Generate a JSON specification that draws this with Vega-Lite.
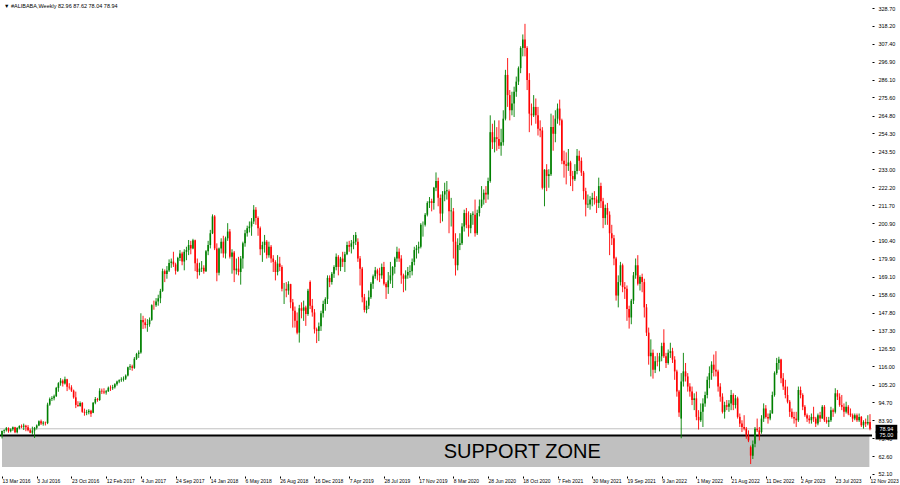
{
"$schema": "https://vega.github.io/schema/vega-lite/v6.json",
"width": 872, "height": 476,
"autosize": {"type": "none"},
"padding": {"left": 0, "top": 0, "right": 28, "bottom": 9},
"background": "#ffffff",
"config": {"view": {"stroke": null}, "font": "Liberation Sans", "axis": {"labelOverlap": false, "labelBound": false, "labelFlush": false}},
"datasets": {
"candles": [
{"d":"2016-03-13","o":74.8,"h":77.9,"l":73.2,"c":77.6},
{"d":"2016-03-20","o":77.6,"h":78.6,"l":76.2,"c":78.1},
{"d":"2016-03-27","o":78.1,"h":80.0,"l":77.3,"c":79.3},
{"d":"2016-04-03","o":79.3,"h":79.8,"l":76.6,"c":77.5},
{"d":"2016-04-10","o":77.5,"h":79.2,"l":76.8,"c":78.6},
{"d":"2016-04-17","o":78.6,"h":80.3,"l":77.7,"c":79.8},
{"d":"2016-04-24","o":79.8,"h":80.1,"l":76.3,"c":76.9},
{"d":"2016-05-01","o":76.9,"h":79.9,"l":76.2,"c":79.4},
{"d":"2016-05-08","o":79.4,"h":81.0,"l":78.6,"c":80.6},
{"d":"2016-05-15","o":80.6,"h":81.5,"l":79.3,"c":80.2},
{"d":"2016-05-22","o":80.2,"h":82.0,"l":78.2,"c":80.8},
{"d":"2016-05-29","o":80.8,"h":81.3,"l":77.5,"c":79.9},
{"d":"2016-06-05","o":79.9,"h":81.1,"l":77.4,"c":78.1},
{"d":"2016-06-12","o":78.1,"h":79.0,"l":76.3,"c":76.6},
{"d":"2016-06-19","o":76.6,"h":80.2,"l":75.4,"c":77.9},
{"d":"2016-06-26","o":77.9,"h":80.0,"l":73.5,"c":79.5},
{"d":"2016-07-03","o":79.5,"h":81.5,"l":78.5,"c":80.9},
{"d":"2016-07-10","o":80.9,"h":83.9,"l":80.5,"c":83.4},
{"d":"2016-07-17","o":83.4,"h":84.4,"l":81.2,"c":82.0},
{"d":"2016-07-24","o":82.0,"h":83.5,"l":80.8,"c":82.6},
{"d":"2016-07-31","o":82.6,"h":83.2,"l":80.9,"c":82.3},
{"d":"2016-08-07","o":82.3,"h":94.4,"l":81.7,"c":93.3},
{"d":"2016-08-14","o":93.3,"h":97.5,"l":92.6,"c":96.6},
{"d":"2016-08-21","o":96.6,"h":98.3,"l":95.4,"c":97.0},
{"d":"2016-08-28","o":97.0,"h":99.2,"l":95.8,"c":98.3},
{"d":"2016-09-04","o":98.3,"h":103.8,"l":97.8,"c":103.2},
{"d":"2016-09-11","o":103.2,"h":106.6,"l":100.9,"c":106.0},
{"d":"2016-09-18","o":106.0,"h":109.0,"l":104.5,"c":107.5},
{"d":"2016-09-25","o":107.5,"h":108.3,"l":104.0,"c":105.8},
{"d":"2016-10-02","o":105.8,"h":109.9,"l":105.2,"c":108.4},
{"d":"2016-10-09","o":108.4,"h":108.6,"l":101.3,"c":103.9},
{"d":"2016-10-16","o":103.9,"h":106.0,"l":102.2,"c":103.5},
{"d":"2016-10-23","o":103.5,"h":104.8,"l":100.8,"c":101.6},
{"d":"2016-10-30","o":101.6,"h":102.2,"l":96.8,"c":97.6},
{"d":"2016-11-06","o":97.6,"h":101.0,"l":91.2,"c":93.1},
{"d":"2016-11-13","o":93.1,"h":95.3,"l":91.9,"c":92.5},
{"d":"2016-11-20","o":92.5,"h":95.2,"l":92.0,"c":94.3},
{"d":"2016-11-27","o":94.3,"h":94.8,"l":88.4,"c":89.0},
{"d":"2016-12-04","o":89.0,"h":90.9,"l":86.7,"c":88.5},
{"d":"2016-12-11","o":88.5,"h":90.2,"l":87.0,"c":88.8},
{"d":"2016-12-18","o":88.8,"h":90.6,"l":87.5,"c":89.7},
{"d":"2016-12-25","o":89.7,"h":90.2,"l":86.0,"c":87.8},
{"d":"2017-01-01","o":88.5,"h":94.8,"l":88.2,"c":94.4},
{"d":"2017-01-08","o":94.4,"h":97.8,"l":93.5,"c":96.6},
{"d":"2017-01-15","o":96.6,"h":97.3,"l":95.0,"c":96.0},
{"d":"2017-01-22","o":96.0,"h":103.0,"l":95.5,"c":101.5},
{"d":"2017-01-29","o":101.5,"h":102.8,"l":99.6,"c":101.0},
{"d":"2017-02-05","o":101.0,"h":103.0,"l":99.5,"c":100.5},
{"d":"2017-02-12","o":100.5,"h":102.0,"l":99.2,"c":101.2},
{"d":"2017-02-19","o":101.2,"h":104.0,"l":100.8,"c":103.3},
{"d":"2017-02-26","o":103.3,"h":104.7,"l":101.4,"c":103.0},
{"d":"2017-03-05","o":103.0,"h":105.0,"l":102.0,"c":103.6},
{"d":"2017-03-12","o":103.6,"h":106.0,"l":102.8,"c":105.4},
{"d":"2017-03-19","o":105.4,"h":107.5,"l":104.5,"c":107.0},
{"d":"2017-03-26","o":107.0,"h":108.3,"l":106.0,"c":107.8},
{"d":"2017-04-02","o":107.8,"h":109.5,"l":106.8,"c":108.2},
{"d":"2017-04-09","o":108.2,"h":110.0,"l":107.0,"c":108.7},
{"d":"2017-04-16","o":108.7,"h":111.2,"l":107.9,"c":110.5},
{"d":"2017-04-23","o":110.5,"h":115.8,"l":110.0,"c":115.5},
{"d":"2017-04-30","o":115.5,"h":117.3,"l":113.8,"c":116.0},
{"d":"2017-05-07","o":116.0,"h":117.0,"l":113.4,"c":115.1},
{"d":"2017-05-14","o":115.1,"h":121.5,"l":114.5,"c":120.5},
{"d":"2017-05-21","o":120.5,"h":124.0,"l":119.8,"c":123.3},
{"d":"2017-05-28","o":123.3,"h":125.5,"l":121.0,"c":124.2},
{"d":"2017-06-04","o":124.2,"h":147.5,"l":123.5,"c":143.5},
{"d":"2017-06-11","o":143.5,"h":146.0,"l":138.2,"c":142.1},
{"d":"2017-06-18","o":142.1,"h":144.5,"l":138.5,"c":140.5},
{"d":"2017-06-25","o":140.5,"h":144.0,"l":136.5,"c":141.0},
{"d":"2017-07-02","o":141.0,"h":145.0,"l":139.5,"c":143.6},
{"d":"2017-07-09","o":143.6,"h":152.8,"l":143.0,"c":152.3},
{"d":"2017-07-16","o":152.3,"h":155.0,"l":149.6,"c":152.2},
{"d":"2017-07-23","o":152.2,"h":156.5,"l":151.3,"c":154.5},
{"d":"2017-07-30","o":154.5,"h":158.5,"l":152.0,"c":156.4},
{"d":"2017-08-06","o":156.4,"h":162.0,"l":153.5,"c":160.8},
{"d":"2017-08-13","o":160.8,"h":174.0,"l":160.2,"c":172.5},
{"d":"2017-08-20","o":172.5,"h":173.5,"l":166.0,"c":170.8},
{"d":"2017-08-27","o":170.8,"h":175.5,"l":168.0,"c":172.9},
{"d":"2017-09-03","o":172.9,"h":179.5,"l":172.0,"c":177.4},
{"d":"2017-09-10","o":177.4,"h":180.0,"l":174.5,"c":178.2},
{"d":"2017-09-17","o":178.2,"h":184.0,"l":175.0,"c":176.5},
{"d":"2017-09-24","o":176.5,"h":177.5,"l":170.5,"c":172.7},
{"d":"2017-10-01","o":172.7,"h":181.0,"l":172.0,"c":180.3},
{"d":"2017-10-08","o":180.3,"h":185.0,"l":178.5,"c":183.0},
{"d":"2017-10-15","o":183.0,"h":184.0,"l":176.0,"c":178.2},
{"d":"2017-10-22","o":178.2,"h":185.5,"l":173.0,"c":184.0},
{"d":"2017-10-29","o":184.0,"h":187.0,"l":179.0,"c":185.0},
{"d":"2017-11-05","o":185.0,"h":191.0,"l":182.0,"c":188.0},
{"d":"2017-11-12","o":188.0,"h":190.5,"l":182.5,"c":186.0},
{"d":"2017-11-19","o":186.0,"h":191.7,"l":185.5,"c":190.8},
{"d":"2017-11-26","o":190.8,"h":191.2,"l":172.5,"c":177.2},
{"d":"2017-12-03","o":177.2,"h":180.0,"l":168.0,"c":172.0},
{"d":"2017-12-10","o":172.0,"h":177.5,"l":170.0,"c":174.0},
{"d":"2017-12-17","o":174.0,"h":178.5,"l":172.0,"c":174.5},
{"d":"2017-12-24","o":174.5,"h":176.0,"l":171.0,"c":172.4},
{"d":"2017-12-31","o":172.4,"h":185.0,"l":172.0,"c":184.3},
{"d":"2018-01-07","o":184.3,"h":190.5,"l":182.0,"c":188.0},
{"d":"2018-01-14","o":188.0,"h":197.0,"l":186.0,"c":195.0},
{"d":"2018-01-21","o":195.0,"h":206.2,"l":194.5,"c":205.0},
{"d":"2018-01-28","o":205.0,"h":205.8,"l":185.0,"c":186.0},
{"d":"2018-02-04","o":186.0,"h":189.0,"l":166.5,"c":171.5},
{"d":"2018-02-11","o":171.5,"h":186.5,"l":170.0,"c":186.0},
{"d":"2018-02-18","o":186.0,"h":192.0,"l":183.0,"c":190.0},
{"d":"2018-02-25","o":190.0,"h":193.5,"l":180.5,"c":183.0},
{"d":"2018-03-04","o":183.0,"h":193.0,"l":180.0,"c":192.0},
{"d":"2018-03-11","o":192.0,"h":201.0,"l":190.5,"c":196.0},
{"d":"2018-03-18","o":196.0,"h":197.5,"l":180.0,"c":181.0},
{"d":"2018-03-25","o":181.0,"h":185.5,"l":171.0,"c":183.5},
{"d":"2018-04-01","o":183.5,"h":184.5,"l":166.0,"c":173.0},
{"d":"2018-04-08","o":173.0,"h":180.0,"l":170.5,"c":174.0},
{"d":"2018-04-15","o":174.0,"h":181.0,"l":170.0,"c":172.0},
{"d":"2018-04-22","o":172.0,"h":181.5,"l":164.5,"c":180.0},
{"d":"2018-04-29","o":180.0,"h":190.0,"l":174.0,"c":189.0},
{"d":"2018-05-06","o":189.0,"h":197.0,"l":187.0,"c":195.0},
{"d":"2018-05-13","o":195.0,"h":199.5,"l":193.0,"c":198.0},
{"d":"2018-05-20","o":198.0,"h":202.0,"l":195.5,"c":199.0},
{"d":"2018-05-27","o":199.0,"h":204.0,"l":193.5,"c":202.0},
{"d":"2018-06-03","o":202.0,"h":211.7,"l":200.5,"c":209.0},
{"d":"2018-06-10","o":209.0,"h":210.5,"l":200.0,"c":204.0},
{"d":"2018-06-17","o":204.0,"h":205.0,"l":193.5,"c":198.0},
{"d":"2018-06-24","o":198.0,"h":199.0,"l":182.0,"c":185.5},
{"d":"2018-07-01","o":185.5,"h":190.0,"l":178.0,"c":188.0},
{"d":"2018-07-08","o":188.0,"h":194.0,"l":183.5,"c":190.0},
{"d":"2018-07-15","o":190.0,"h":191.0,"l":180.0,"c":182.0},
{"d":"2018-07-22","o":182.0,"h":190.0,"l":180.5,"c":187.0},
{"d":"2018-07-29","o":187.0,"h":188.0,"l":177.5,"c":180.0},
{"d":"2018-08-05","o":180.0,"h":182.0,"l":172.0,"c":178.0},
{"d":"2018-08-12","o":178.0,"h":179.0,"l":167.0,"c":172.0},
{"d":"2018-08-19","o":172.0,"h":182.0,"l":170.0,"c":177.0},
{"d":"2018-08-26","o":177.0,"h":181.0,"l":172.5,"c":175.0},
{"d":"2018-09-02","o":175.0,"h":176.0,"l":160.5,"c":162.0},
{"d":"2018-09-09","o":162.0,"h":165.5,"l":153.0,"c":162.0},
{"d":"2018-09-16","o":162.0,"h":166.0,"l":157.0,"c":161.0},
{"d":"2018-09-23","o":161.0,"h":166.5,"l":158.5,"c":164.8},
{"d":"2018-09-30","o":164.8,"h":165.0,"l":150.5,"c":154.0},
{"d":"2018-10-07","o":154.0,"h":156.0,"l":139.0,"c":149.0},
{"d":"2018-10-14","o":149.0,"h":151.5,"l":139.0,"c":143.0},
{"d":"2018-10-21","o":143.0,"h":148.0,"l":135.0,"c":136.0},
{"d":"2018-10-28","o":136.0,"h":152.5,"l":130.1,"c":150.5},
{"d":"2018-11-04","o":150.5,"h":154.0,"l":144.5,"c":149.0},
{"d":"2018-11-11","o":149.0,"h":155.0,"l":143.0,"c":151.0},
{"d":"2018-11-18","o":151.0,"h":152.0,"l":140.0,"c":147.0},
{"d":"2018-11-25","o":147.0,"h":162.0,"l":146.0,"c":160.8},
{"d":"2018-12-02","o":166.0,"h":167.0,"l":150.0,"c":152.0},
{"d":"2018-12-09","o":152.0,"h":156.0,"l":145.5,"c":148.0},
{"d":"2018-12-16","o":148.0,"h":150.0,"l":135.5,"c":138.0},
{"d":"2018-12-23","o":138.0,"h":139.0,"l":129.8,"c":137.0},
{"d":"2018-12-30","o":137.0,"h":142.0,"l":131.0,"c":139.8},
{"d":"2019-01-06","o":139.8,"h":149.0,"l":137.0,"c":147.5},
{"d":"2019-01-13","o":147.5,"h":155.0,"l":145.0,"c":153.0},
{"d":"2019-01-20","o":153.0,"h":157.0,"l":149.0,"c":156.0},
{"d":"2019-01-27","o":156.0,"h":170.0,"l":153.0,"c":168.5},
{"d":"2019-02-03","o":168.5,"h":170.0,"l":163.0,"c":166.0},
{"d":"2019-02-10","o":166.0,"h":172.0,"l":164.5,"c":171.0},
{"d":"2019-02-17","o":171.0,"h":176.0,"l":168.5,"c":175.0},
{"d":"2019-02-24","o":175.0,"h":183.0,"l":173.0,"c":181.0},
{"d":"2019-03-03","o":181.0,"h":182.0,"l":170.0,"c":175.0},
{"d":"2019-03-10","o":175.0,"h":181.0,"l":172.5,"c":180.0},
{"d":"2019-03-17","o":180.0,"h":184.0,"l":175.0,"c":178.0},
{"d":"2019-03-24","o":178.0,"h":184.0,"l":172.0,"c":182.5},
{"d":"2019-03-31","o":182.5,"h":190.0,"l":182.0,"c":188.0},
{"d":"2019-04-07","o":188.0,"h":190.5,"l":184.0,"c":187.0},
{"d":"2019-04-14","o":187.0,"h":191.0,"l":183.0,"c":189.0},
{"d":"2019-04-21","o":189.0,"h":194.0,"l":185.5,"c":190.0},
{"d":"2019-04-28","o":190.0,"h":195.7,"l":188.0,"c":194.0},
{"d":"2019-05-05","o":190.0,"h":192.0,"l":178.0,"c":180.0},
{"d":"2019-05-12","o":180.0,"h":181.5,"l":164.0,"c":174.0},
{"d":"2019-05-19","o":174.0,"h":175.0,"l":154.0,"c":157.0},
{"d":"2019-05-26","o":157.0,"h":159.0,"l":148.0,"c":149.5},
{"d":"2019-06-02","o":149.5,"h":155.0,"l":147.5,"c":152.0},
{"d":"2019-06-09","o":152.0,"h":161.0,"l":150.0,"c":157.0},
{"d":"2019-06-16","o":157.0,"h":166.0,"l":156.0,"c":165.0},
{"d":"2019-06-23","o":165.0,"h":170.5,"l":162.0,"c":169.5},
{"d":"2019-06-30","o":169.5,"h":175.0,"l":168.0,"c":173.0},
{"d":"2019-07-07","o":173.0,"h":174.0,"l":167.0,"c":171.0},
{"d":"2019-07-14","o":171.0,"h":174.5,"l":166.0,"c":170.0},
{"d":"2019-07-21","o":170.0,"h":177.0,"l":168.0,"c":175.0},
{"d":"2019-07-28","o":175.0,"h":178.0,"l":164.0,"c":165.0},
{"d":"2019-08-04","o":165.0,"h":166.0,"l":156.0,"c":163.0},
{"d":"2019-08-11","o":163.0,"h":172.0,"l":159.0,"c":167.0},
{"d":"2019-08-18","o":167.0,"h":178.0,"l":165.0,"c":170.0},
{"d":"2019-08-25","o":170.0,"h":175.5,"l":162.5,"c":175.0},
{"d":"2019-09-01","o":175.0,"h":181.0,"l":171.0,"c":180.0},
{"d":"2019-09-08","o":180.0,"h":187.0,"l":178.0,"c":184.0},
{"d":"2019-09-15","o":184.0,"h":186.0,"l":178.0,"c":180.0},
{"d":"2019-09-22","o":180.0,"h":182.0,"l":165.0,"c":170.0},
{"d":"2019-09-29","o":170.0,"h":171.0,"l":160.0,"c":168.0},
{"d":"2019-10-06","o":168.0,"h":173.0,"l":161.0,"c":170.0},
{"d":"2019-10-13","o":170.0,"h":175.0,"l":168.0,"c":172.0},
{"d":"2019-10-20","o":172.0,"h":176.0,"l":168.5,"c":172.5},
{"d":"2019-10-27","o":172.5,"h":180.0,"l":170.0,"c":178.0},
{"d":"2019-11-03","o":178.0,"h":187.0,"l":176.0,"c":185.0},
{"d":"2019-11-10","o":185.0,"h":188.0,"l":180.0,"c":186.0},
{"d":"2019-11-17","o":186.0,"h":190.0,"l":183.0,"c":187.0},
{"d":"2019-11-24","o":187.0,"h":201.0,"l":186.0,"c":200.0},
{"d":"2019-12-01","o":200.0,"h":202.0,"l":193.0,"c":200.0},
{"d":"2019-12-08","o":200.0,"h":207.0,"l":199.0,"c":206.0},
{"d":"2019-12-15","o":206.0,"h":214.0,"l":205.0,"c":213.0},
{"d":"2019-12-22","o":213.0,"h":216.5,"l":210.0,"c":214.0},
{"d":"2019-12-29","o":214.0,"h":215.5,"l":208.0,"c":213.0},
{"d":"2020-01-05","o":213.0,"h":222.5,"l":209.0,"c":222.0},
{"d":"2020-01-12","o":222.0,"h":231.1,"l":220.0,"c":226.0},
{"d":"2020-01-19","o":226.0,"h":228.0,"l":211.0,"c":216.0},
{"d":"2020-01-26","o":216.0,"h":218.0,"l":201.0,"c":206.7},
{"d":"2020-02-02","o":206.7,"h":220.0,"l":202.0,"c":218.0},
{"d":"2020-02-09","o":218.0,"h":225.0,"l":214.0,"c":220.0},
{"d":"2020-02-16","o":220.0,"h":226.0,"l":215.0,"c":220.5},
{"d":"2020-02-23","o":220.0,"h":221.0,"l":195.0,"c":208.0},
{"d":"2020-03-01","o":208.0,"h":216.0,"l":199.0,"c":208.5},
{"d":"2020-03-08","o":208.0,"h":210.0,"l":180.0,"c":190.0},
{"d":"2020-03-15","o":190.0,"h":195.0,"l":169.9,"c":176.0},
{"d":"2020-03-22","o":176.0,"h":192.0,"l":173.0,"c":188.0},
{"d":"2020-03-29","o":188.0,"h":195.0,"l":185.0,"c":189.0},
{"d":"2020-04-05","o":189.0,"h":201.0,"l":188.0,"c":199.0},
{"d":"2020-04-12","o":199.0,"h":209.0,"l":196.0,"c":207.0},
{"d":"2020-04-19","o":207.0,"h":210.0,"l":198.0,"c":200.0},
{"d":"2020-04-26","o":200.0,"h":208.0,"l":193.0,"c":198.0},
{"d":"2020-05-03","o":198.0,"h":207.0,"l":195.0,"c":206.0},
{"d":"2020-05-10","o":206.0,"h":208.0,"l":200.0,"c":206.5},
{"d":"2020-05-17","o":206.0,"h":215.0,"l":193.0,"c":195.0},
{"d":"2020-05-24","o":195.0,"h":209.0,"l":194.0,"c":207.0},
{"d":"2020-05-31","o":207.0,"h":215.0,"l":205.0,"c":211.0},
{"d":"2020-06-07","o":211.0,"h":223.0,"l":210.0,"c":215.0},
{"d":"2020-06-14","o":215.0,"h":221.0,"l":212.0,"c":219.0},
{"d":"2020-06-21","o":219.0,"h":223.0,"l":213.0,"c":218.0},
{"d":"2020-06-28","o":218.0,"h":228.0,"l":215.0,"c":226.0},
{"d":"2020-07-05","o":226.0,"h":265.0,"l":225.0,"c":255.0},
{"d":"2020-07-12","o":255.0,"h":260.0,"l":245.0,"c":249.0},
{"d":"2020-07-19","o":249.0,"h":262.0,"l":243.0,"c":252.0},
{"d":"2020-07-26","o":252.0,"h":258.0,"l":244.0,"c":251.0},
{"d":"2020-08-02","o":251.0,"h":262.0,"l":245.0,"c":247.0},
{"d":"2020-08-09","o":247.0,"h":257.0,"l":241.0,"c":249.0},
{"d":"2020-08-16","o":249.0,"h":268.0,"l":247.0,"c":263.0},
{"d":"2020-08-23","o":263.0,"h":292.0,"l":262.0,"c":289.0},
{"d":"2020-08-30","o":289.0,"h":299.0,"l":270.0,"c":277.0},
{"d":"2020-09-06","o":277.0,"h":280.0,"l":262.0,"c":268.0},
{"d":"2020-09-13","o":268.0,"h":279.0,"l":265.0,"c":272.0},
{"d":"2020-09-20","o":272.0,"h":282.0,"l":264.0,"c":279.0},
{"d":"2020-09-27","o":279.0,"h":288.0,"l":276.0,"c":285.0},
{"d":"2020-10-04","o":285.0,"h":294.0,"l":283.0,"c":293.0},
{"d":"2020-10-11","o":293.0,"h":306.0,"l":290.0,"c":305.0},
{"d":"2020-10-18","o":305.0,"h":313.0,"l":300.0,"c":310.0},
{"d":"2020-10-25","o":310.0,"h":319.3,"l":300.0,"c":305.0},
{"d":"2020-11-01","o":305.0,"h":306.0,"l":280.0,"c":286.0},
{"d":"2020-11-08","o":286.0,"h":290.0,"l":255.0,"c":266.0},
{"d":"2020-11-15","o":266.0,"h":272.0,"l":259.0,"c":265.0},
{"d":"2020-11-22","o":265.0,"h":277.0,"l":264.0,"c":270.0},
{"d":"2020-11-29","o":270.0,"h":275.0,"l":260.0,"c":265.0},
{"d":"2020-12-06","o":265.0,"h":270.0,"l":253.0,"c":257.0},
{"d":"2020-12-13","o":257.0,"h":262.0,"l":252.0,"c":256.0},
{"d":"2020-12-20","o":256.0,"h":258.0,"l":221.0,"c":222.0},
{"d":"2020-12-27","o":222.0,"h":233.0,"l":211.0,"c":232.7},
{"d":"2021-01-03","o":232.7,"h":236.0,"l":220.0,"c":229.0},
{"d":"2021-01-10","o":229.0,"h":233.0,"l":222.0,"c":230.0},
{"d":"2021-01-17","o":230.0,"h":266.0,"l":229.0,"c":258.0},
{"d":"2021-01-24","o":258.0,"h":265.0,"l":244.0,"c":254.0},
{"d":"2021-01-31","o":254.0,"h":268.0,"l":249.0,"c":263.0},
{"d":"2021-02-07","o":263.0,"h":272.0,"l":260.0,"c":269.0},
{"d":"2021-02-14","o":269.0,"h":274.3,"l":259.0,"c":262.0},
{"d":"2021-02-21","o":262.0,"h":263.0,"l":236.0,"c":238.0},
{"d":"2021-02-28","o":238.0,"h":244.0,"l":228.0,"c":236.0},
{"d":"2021-03-07","o":236.0,"h":243.0,"l":224.0,"c":235.0},
{"d":"2021-03-14","o":235.0,"h":245.0,"l":232.0,"c":237.0},
{"d":"2021-03-21","o":237.0,"h":238.0,"l":223.0,"c":229.0},
{"d":"2021-03-28","o":229.0,"h":232.0,"l":220.0,"c":227.0},
{"d":"2021-04-04","o":227.0,"h":236.0,"l":226.0,"c":232.0},
{"d":"2021-04-11","o":232.0,"h":245.0,"l":230.0,"c":241.0},
{"d":"2021-04-18","o":241.0,"h":244.0,"l":232.0,"c":238.0},
{"d":"2021-04-25","o":238.0,"h":240.0,"l":229.0,"c":231.0},
{"d":"2021-05-02","o":231.0,"h":232.0,"l":215.0,"c":220.0},
{"d":"2021-05-09","o":220.0,"h":222.0,"l":205.0,"c":212.0},
{"d":"2021-05-16","o":212.0,"h":218.0,"l":210.0,"c":212.5},
{"d":"2021-05-23","o":212.0,"h":217.0,"l":209.0,"c":215.0},
{"d":"2021-05-30","o":215.0,"h":219.0,"l":211.0,"c":216.0},
{"d":"2021-06-06","o":216.0,"h":220.0,"l":212.0,"c":215.0},
{"d":"2021-06-13","o":215.0,"h":217.0,"l":207.0,"c":213.0},
{"d":"2021-06-20","o":213.0,"h":228.0,"l":210.0,"c":223.0},
{"d":"2021-06-27","o":223.0,"h":225.0,"l":210.0,"c":214.0},
{"d":"2021-07-04","o":214.0,"h":216.0,"l":198.0,"c":204.0},
{"d":"2021-07-11","o":204.0,"h":212.0,"l":200.0,"c":210.0},
{"d":"2021-07-18","o":210.0,"h":213.0,"l":200.0,"c":206.0},
{"d":"2021-07-25","o":206.0,"h":208.0,"l":182.0,"c":195.0},
{"d":"2021-08-01","o":195.0,"h":200.0,"l":188.0,"c":192.0},
{"d":"2021-08-08","o":192.0,"h":194.0,"l":176.0,"c":180.0},
{"d":"2021-08-15","o":180.0,"h":181.0,"l":155.0,"c":158.0},
{"d":"2021-08-22","o":158.0,"h":170.0,"l":151.0,"c":166.0},
{"d":"2021-08-29","o":166.0,"h":178.0,"l":164.0,"c":176.0},
{"d":"2021-09-05","o":176.0,"h":177.0,"l":160.0,"c":163.0},
{"d":"2021-09-12","o":163.0,"h":166.0,"l":156.0,"c":162.0},
{"d":"2021-09-19","o":162.0,"h":164.0,"l":143.0,"c":150.0},
{"d":"2021-09-26","o":150.0,"h":152.0,"l":138.4,"c":145.0},
{"d":"2021-10-03","o":145.0,"h":156.0,"l":141.0,"c":155.0},
{"d":"2021-10-10","o":155.0,"h":172.0,"l":153.0,"c":170.0},
{"d":"2021-10-17","o":170.0,"h":180.0,"l":168.0,"c":176.0},
{"d":"2021-10-24","o":176.0,"h":182.0,"l":164.0,"c":165.0},
{"d":"2021-10-31","o":165.0,"h":170.0,"l":161.0,"c":169.0},
{"d":"2021-11-07","o":169.0,"h":171.0,"l":160.0,"c":166.0},
{"d":"2021-11-14","o":166.0,"h":168.0,"l":145.0,"c":151.0},
{"d":"2021-11-21","o":151.0,"h":153.0,"l":134.0,"c":136.0},
{"d":"2021-11-28","o":136.0,"h":139.0,"l":117.0,"c":122.0},
{"d":"2021-12-05","o":122.0,"h":132.0,"l":110.0,"c":124.0},
{"d":"2021-12-12","o":124.0,"h":126.0,"l":108.7,"c":114.0},
{"d":"2021-12-19","o":114.0,"h":122.0,"l":112.0,"c":119.0},
{"d":"2021-12-26","o":119.0,"h":124.0,"l":116.0,"c":118.8},
{"d":"2022-01-02","o":118.8,"h":124.0,"l":113.0,"c":122.0},
{"d":"2022-01-09","o":122.0,"h":130.0,"l":119.0,"c":128.0},
{"d":"2022-01-16","o":130.0,"h":138.0,"l":121.0,"c":122.0},
{"d":"2022-01-23","o":122.0,"h":124.0,"l":115.0,"c":118.0},
{"d":"2022-01-30","o":118.0,"h":126.0,"l":117.0,"c":124.0},
{"d":"2022-02-06","o":124.0,"h":130.0,"l":121.0,"c":125.0},
{"d":"2022-02-13","o":125.0,"h":127.0,"l":118.0,"c":120.0},
{"d":"2022-02-20","o":120.0,"h":122.0,"l":108.0,"c":113.0},
{"d":"2022-02-27","o":113.0,"h":114.0,"l":98.0,"c":101.0},
{"d":"2022-03-06","o":101.0,"h":102.0,"l":86.0,"c":88.6},
{"d":"2022-03-13","o":85.0,"h":112.0,"l":73.3,"c":107.0},
{"d":"2022-03-20","o":107.0,"h":124.0,"l":104.0,"c":113.0},
{"d":"2022-03-27","o":113.0,"h":118.0,"l":107.0,"c":110.0},
{"d":"2022-04-03","o":110.0,"h":112.0,"l":101.0,"c":104.0},
{"d":"2022-04-10","o":104.0,"h":106.0,"l":98.0,"c":101.0},
{"d":"2022-04-17","o":101.0,"h":104.0,"l":93.0,"c":96.0},
{"d":"2022-04-24","o":96.0,"h":100.0,"l":90.0,"c":97.0},
{"d":"2022-05-01","o":97.0,"h":101.0,"l":84.0,"c":86.0},
{"d":"2022-05-08","o":86.0,"h":90.0,"l":78.5,"c":84.0},
{"d":"2022-05-15","o":84.0,"h":94.0,"l":83.0,"c":89.0},
{"d":"2022-05-22","o":89.0,"h":97.0,"l":80.0,"c":94.0},
{"d":"2022-05-29","o":94.0,"h":101.0,"l":92.0,"c":99.0},
{"d":"2022-06-05","o":99.0,"h":110.0,"l":97.0,"c":108.0},
{"d":"2022-06-12","o":108.0,"h":116.0,"l":103.0,"c":112.0},
{"d":"2022-06-19","o":112.0,"h":119.0,"l":108.0,"c":117.0},
{"d":"2022-06-26","o":117.0,"h":123.0,"l":110.0,"c":114.0},
{"d":"2022-07-03","o":114.0,"h":125.0,"l":110.0,"c":113.0},
{"d":"2022-07-10","o":113.0,"h":114.0,"l":101.0,"c":104.0},
{"d":"2022-07-17","o":104.0,"h":106.0,"l":95.0,"c":98.0},
{"d":"2022-07-24","o":98.0,"h":100.0,"l":88.0,"c":89.0},
{"d":"2022-07-31","o":89.0,"h":95.0,"l":85.0,"c":93.0},
{"d":"2022-08-07","o":93.0,"h":96.0,"l":90.0,"c":92.0},
{"d":"2022-08-14","o":92.0,"h":96.0,"l":89.0,"c":94.0},
{"d":"2022-08-21","o":94.0,"h":102.0,"l":90.0,"c":99.0},
{"d":"2022-08-28","o":99.0,"h":100.0,"l":90.0,"c":93.0},
{"d":"2022-09-04","o":93.0,"h":99.0,"l":91.0,"c":97.0},
{"d":"2022-09-11","o":97.0,"h":98.0,"l":85.0,"c":86.0},
{"d":"2022-09-18","o":86.0,"h":88.0,"l":80.0,"c":82.0},
{"d":"2022-09-25","o":82.0,"h":84.0,"l":77.0,"c":80.0},
{"d":"2022-10-02","o":80.0,"h":87.0,"l":78.0,"c":79.0},
{"d":"2022-10-09","o":79.0,"h":80.0,"l":73.0,"c":75.0},
{"d":"2022-10-16","o":75.0,"h":78.0,"l":71.0,"c":72.0},
{"d":"2022-10-23","o":68.0,"h":69.0,"l":58.0,"c":63.0},
{"d":"2022-10-30","o":63.0,"h":72.0,"l":61.0,"c":69.7},
{"d":"2022-11-06","o":70.0,"h":80.0,"l":68.0,"c":79.0},
{"d":"2022-11-13","o":79.0,"h":85.0,"l":77.0,"c":78.0},
{"d":"2022-11-20","o":78.0,"h":80.0,"l":72.0,"c":75.0},
{"d":"2022-11-27","o":77.0,"h":87.0,"l":76.0,"c":85.0},
{"d":"2022-12-04","o":85.0,"h":94.0,"l":83.0,"c":91.0},
{"d":"2022-12-11","o":91.0,"h":93.0,"l":85.0,"c":86.0},
{"d":"2022-12-18","o":86.0,"h":88.0,"l":82.0,"c":85.0},
{"d":"2022-12-25","o":85.0,"h":90.0,"l":84.0,"c":88.0},
{"d":"2023-01-01","o":88.0,"h":101.0,"l":88.0,"c":99.0},
{"d":"2023-01-08","o":99.0,"h":113.0,"l":98.0,"c":112.0},
{"d":"2023-01-15","o":112.0,"h":121.0,"l":111.0,"c":118.0},
{"d":"2023-01-22","o":118.0,"h":121.7,"l":114.0,"c":120.0},
{"d":"2023-01-29","o":120.0,"h":120.5,"l":106.0,"c":109.0},
{"d":"2023-02-05","o":109.0,"h":112.0,"l":102.0,"c":104.0},
{"d":"2023-02-12","o":104.0,"h":108.0,"l":97.0,"c":99.0},
{"d":"2023-02-19","o":99.0,"h":104.0,"l":94.0,"c":95.0},
{"d":"2023-02-26","o":95.0,"h":96.0,"l":86.0,"c":89.0},
{"d":"2023-03-05","o":89.0,"h":91.0,"l":85.0,"c":86.0},
{"d":"2023-03-12","o":86.0,"h":89.0,"l":82.0,"c":85.0},
{"d":"2023-03-19","o":85.0,"h":89.0,"l":80.0,"c":84.0},
{"d":"2023-03-26","o":84.0,"h":104.0,"l":83.0,"c":102.0},
{"d":"2023-04-02","o":102.0,"h":104.0,"l":97.0,"c":99.0},
{"d":"2023-04-09","o":99.0,"h":100.0,"l":90.0,"c":92.0},
{"d":"2023-04-16","o":92.0,"h":93.0,"l":86.0,"c":87.0},
{"d":"2023-04-23","o":87.0,"h":88.0,"l":83.0,"c":85.0},
{"d":"2023-04-30","o":85.0,"h":87.0,"l":82.0,"c":84.0},
{"d":"2023-05-07","o":84.0,"h":88.0,"l":82.0,"c":86.0},
{"d":"2023-05-14","o":86.0,"h":92.0,"l":83.0,"c":85.0},
{"d":"2023-05-21","o":85.0,"h":86.0,"l":80.0,"c":82.0},
{"d":"2023-05-28","o":82.0,"h":88.0,"l":81.0,"c":87.0},
{"d":"2023-06-04","o":87.0,"h":89.0,"l":83.0,"c":85.0},
{"d":"2023-06-11","o":85.0,"h":93.0,"l":85.0,"c":92.0},
{"d":"2023-06-18","o":92.0,"h":93.0,"l":83.0,"c":84.0},
{"d":"2023-06-25","o":84.0,"h":86.0,"l":82.0,"c":83.0},
{"d":"2023-07-02","o":83.0,"h":86.0,"l":80.0,"c":84.0},
{"d":"2023-07-09","o":84.0,"h":92.0,"l":83.0,"c":90.0},
{"d":"2023-07-16","o":90.0,"h":91.0,"l":86.0,"c":89.0},
{"d":"2023-07-23","o":89.0,"h":103.0,"l":88.0,"c":100.0},
{"d":"2023-07-30","o":100.0,"h":102.0,"l":96.0,"c":98.0},
{"d":"2023-08-06","o":98.0,"h":100.0,"l":92.0,"c":93.0},
{"d":"2023-08-13","o":93.0,"h":99.0,"l":90.0,"c":92.0},
{"d":"2023-08-20","o":92.0,"h":94.0,"l":86.0,"c":89.0},
{"d":"2023-08-27","o":89.0,"h":95.0,"l":88.0,"c":92.0},
{"d":"2023-09-03","o":92.0,"h":93.0,"l":87.0,"c":88.0},
{"d":"2023-09-10","o":88.0,"h":91.0,"l":86.0,"c":87.0},
{"d":"2023-09-17","o":87.0,"h":88.0,"l":83.0,"c":85.0},
{"d":"2023-09-24","o":85.0,"h":88.0,"l":84.0,"c":87.0},
{"d":"2023-10-01","o":87.0,"h":88.0,"l":83.0,"c":84.0},
{"d":"2023-10-08","o":84.0,"h":88.0,"l":83.0,"c":86.0},
{"d":"2023-10-15","o":86.0,"h":86.5,"l":80.0,"c":81.0},
{"d":"2023-10-22","o":81.0,"h":84.0,"l":79.0,"c":83.0},
{"d":"2023-10-29","o":83.0,"h":85.0,"l":80.0,"c":82.0},
{"d":"2023-11-05","o":82.0,"h":87.0,"l":81.0,"c":83.0},
{"d":"2023-11-12","o":82.96,"h":87.62,"l":78.04,"c":78.94}
],
"one": [{}]
},
"layer": [
{
"data": {"name": "one"},
"mark": {"type": "rect", "fill": "#c0c0c0"},
"encoding": {
"x": {"datum": {"year": 2016, "month": 3, "date": 13, "utc": true}, "type": "temporal"},
"x2": {"datum": {"year": 2023, "month": 11, "date": 10, "utc": true}},
"y": {"datum": 75.0, "type": "quantitative"},
"y2": {"datum": 56.25}
}
},
{
"data": {"name": "one"},
"mark": {"type": "rule", "color": "#c0c0c0", "strokeWidth": 1},
"encoding": {"y": {"datum": 78.94, "type": "quantitative"}}
},
{
"data": {"name": "one"},
"mark": {"type": "rule", "color": "#000000", "strokeWidth": 2},
"encoding": {"y": {"datum": 75.0, "type": "quantitative"}}
},
{
"data": {"name": "candles"},
"mark": {"type": "rule", "strokeWidth": 0.9},
"encoding": {
"x": {"field": "d", "type": "temporal",
"scale": {"type": "utc", "padding": 0, "domain": [{"year": 2016, "month": 3, "date": 6, "hours": 13, "utc": true}, {"year": 2023, "month": 11, "date": 18, "hours": 11, "utc": true}]},
"axis": {"orient": "bottom", "title": null, "grid": false, "domain": false, "tickSize": 2, "tickCount": 200, "tickColor": "#000000", "labelAlign": "left", "labelBaseline": "top", "labelPadding": 0, "labelFontSize": 5, "labelColor": "#000000",
"labelExpr": "utcFormat(datum.value, '%-d %b %Y')",
"values": [{"year":2016,"month":3,"date":13,"utc":true},{"year":2016,"month":7,"date":3,"utc":true},{"year":2016,"month":10,"date":23,"utc":true},{"year":2017,"month":2,"date":12,"utc":true},{"year":2017,"month":6,"date":4,"utc":true},{"year":2017,"month":9,"date":24,"utc":true},{"year":2018,"month":1,"date":14,"utc":true},{"year":2018,"month":5,"date":6,"utc":true},{"year":2018,"month":8,"date":26,"utc":true},{"year":2018,"month":12,"date":16,"utc":true},{"year":2019,"month":4,"date":7,"utc":true},{"year":2019,"month":7,"date":28,"utc":true},{"year":2019,"month":11,"date":17,"utc":true},{"year":2020,"month":3,"date":8,"utc":true},{"year":2020,"month":6,"date":28,"utc":true},{"year":2020,"month":10,"date":18,"utc":true},{"year":2021,"month":2,"date":7,"utc":true},{"year":2021,"month":5,"date":30,"utc":true},{"year":2021,"month":9,"date":19,"utc":true},{"year":2022,"month":1,"date":9,"utc":true},{"year":2022,"month":5,"date":1,"utc":true},{"year":2022,"month":8,"date":21,"utc":true},{"year":2022,"month":12,"date":11,"utc":true},{"year":2023,"month":4,"date":2,"utc":true},{"year":2023,"month":7,"date":23,"utc":true},{"year":2023,"month":11,"date":12,"utc":true}]}},
"y": {"field": "l", "type": "quantitative", "scale": {"domain": [50.91, 333.45], "zero": false, "nice": false, "padding": 0},
"axis": {"orient": "right", "title": null, "grid": false, "domain": false, "tickSize": 2, "tickCount": 200, "tickColor": "#000000", "labelPadding": 4, "labelFontSize": 5.5, "labelColor": "#000000", "format": ".2f",
"values": [52.1, 62.6, 73.4, 83.9, 94.7, 105.2, 116.0, 126.5, 137.3, 147.8, 158.6, 169.1, 179.9, 190.4, 200.9, 211.7, 222.2, 233.0, 243.5, 254.3, 264.8, 275.6, 286.1, 296.9, 307.4, 318.2, 328.7]}},
"y2": {"field": "h"},
"color": {"condition": {"test": "datum.c >= datum.o", "value": "#008000"}, "value": "#ff0000"}
}
},
{
"data": {"name": "candles"},
"mark": {"type": "bar", "width": 1.6},
"encoding": {
"x": {"field": "d", "type": "temporal"},
"y": {"field": "o", "type": "quantitative"},
"y2": {"field": "c"},
"color": {"condition": {"test": "datum.c >= datum.o", "value": "#008000"}, "value": "#ff0000"}
}
},
{
"data": {"name": "one"},
"mark": {"type": "text", "text": "SUPPORT ZONE", "fontSize": 20, "font": "Liberation Sans", "color": "#000000", "align": "center", "baseline": "middle"},
"encoding": {
"x": {"datum": {"year": 2020, "month": 10, "date": 16, "utc": true}, "type": "temporal"},
"y": {"datum": 65.2, "type": "quantitative"}
}
},
{
"data": {"name": "one"},
"mark": {"type": "text", "text": "▼ #ALIBABA,Weekly  82.96 87.62 78.04 78.94", "fontSize": 5.5, "font": "Liberation Sans", "color": "#000000", "align": "left", "baseline": "middle", "dx": 2},
"encoding": {
"x": {"datum": {"year": 2016, "month": 3, "date": 13, "utc": true}, "type": "temporal"},
"y": {"datum": 329.8, "type": "quantitative"}
}
},
{
"data": {"name": "one"},
"mark": {"type": "rect", "fill": "#000000"},
"encoding": {
"x": {"datum": {"year": 2023, "month": 11, "date": 30, "utc": true}, "type": "temporal"},
"x2": {"datum": {"year": 2024, "month": 2, "date": 8, "utc": true}},
"y": {"datum": 81.3, "type": "quantitative"},
"y2": {"datum": 76.6}
}
},
{
"data": {"name": "one"},
"mark": {"type": "text", "text": "78.94", "fontSize": 5.5, "color": "#ffffff", "align": "center", "baseline": "middle"},
"encoding": {
"x": {"datum": {"year": 2024, "month": 1, "date": 4, "utc": true}, "type": "temporal"},
"y": {"datum": 78.94, "type": "quantitative"}
}
},
{
"data": {"name": "one"},
"mark": {"type": "rect", "fill": "#000000"},
"encoding": {
"x": {"datum": {"year": 2023, "month": 11, "date": 30, "utc": true}, "type": "temporal"},
"x2": {"datum": {"year": 2024, "month": 2, "date": 8, "utc": true}},
"y": {"datum": 77.4, "type": "quantitative"},
"y2": {"datum": 72.6}
}
},
{
"data": {"name": "one"},
"mark": {"type": "text", "text": "75.00", "fontSize": 5.5, "color": "#ffffff", "align": "center", "baseline": "middle"},
"encoding": {
"x": {"datum": {"year": 2024, "month": 1, "date": 4, "utc": true}, "type": "temporal"},
"y": {"datum": 75.0, "type": "quantitative"}
}
}
]
}
